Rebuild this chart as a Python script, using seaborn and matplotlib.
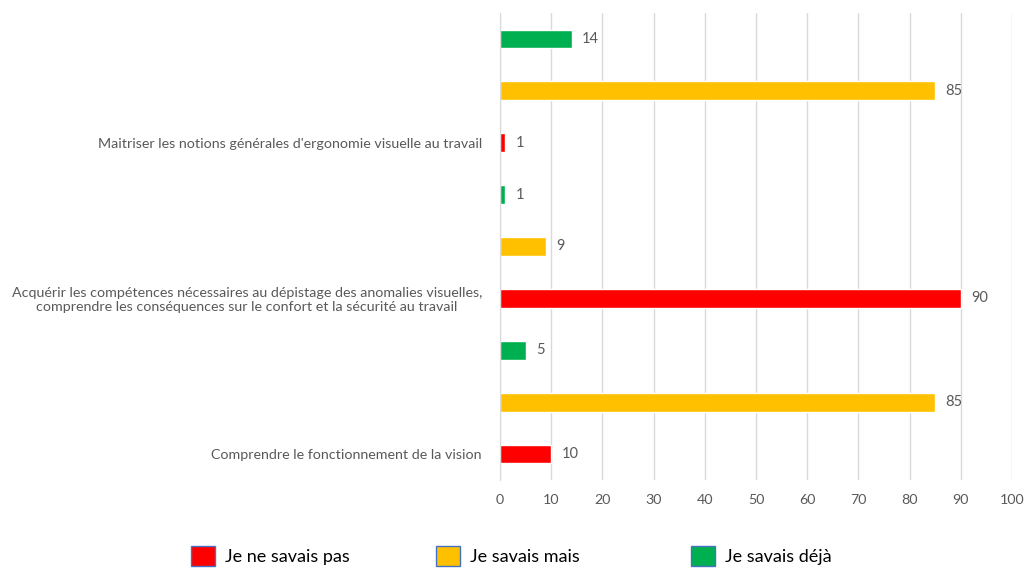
import numpy as np
import pandas as pd
import matplotlib.pyplot as plt
import seaborn as sns
from matplotlib.patches import Patch

# Données (de haut en bas)
rangs = ['r1', 'r2', 'r3', 'r4', 'r5', 'r6', 'r7', 'r8', 'r9']
series = ['Je savais déjà', 'Je savais mais', 'Je ne savais pas'] * 3
valeurs = [14, 85, 1, 1, 9, 90, 5, 85, 10]
themes = [
    "Maitriser les notions générales d'ergonomie visuelle au travail",
    "Acquérir les compétences nécessaires au dépistage des anomalies visuelles,\ncomprendre les conséquences sur le confort et la sécurité au travail",
    "Comprendre le fonctionnement de la vision",
]
legende = ['Je ne savais pas', 'Je savais mais', 'Je savais déjà']
couleurs = {'Je ne savais pas': '#FF0000', 'Je savais mais': '#FFC000', 'Je savais déjà': '#00B050'}

df = pd.DataFrame({'rang': rangs, 'serie': series, 'valeur': valeurs})

sns.set_style('white')
plt.rcParams['font.family'] = ['Lato', 'DejaVu Sans']
gris = '#595959'

fig = plt.figure(figsize=(10.26, 5.70), dpi=100)
ax = fig.add_axes([500 / 1026, 1 - 480 / 570, 512 / 1026, 467 / 570])

sns.barplot(data=df, y='rang', x='valeur', hue='serie', palette=couleurs,
            dodge=False, width=0.36, orient='h', saturation=1, ax=ax, legend=False)

ax.set_xlim(0, 100)
ax.set_ylim(8.5, -0.5)
ax.set_xticks(np.arange(0, 101, 10))
ax.xaxis.grid(True, color='#D9D9D9', linewidth=1)
ax.set_axisbelow(True)
ax.tick_params(axis='x', length=0, labelsize=10.3, labelcolor=gris, pad=10)

# étiquettes des thèmes sur les barres rouges
ax.set_yticks([2, 5, 8])
ax.set_yticklabels(themes, multialignment='center')
ax.tick_params(axis='y', length=0, labelsize=10.3, labelcolor=gris, pad=13)
ax.set_yticks(np.arange(-0.5, 9, 1), minor=True)
ax.tick_params(axis='y', which='minor', length=5, color='#D9D9D9', width=1, direction='out')

ax.set_xlabel('')
ax.set_ylabel('')
for s in ['top', 'right', 'bottom']:
    ax.spines[s].set_visible(False)
ax.spines['left'].set_color('#D9D9D9')

for cont in ax.containers:
    ax.bar_label(cont, padding=7.5, fontsize=10.5, color=gris)

# légende : une entrée par position
pos_x = [191, 436, 691]
for nom, x in zip(legende, pos_x):
    h = Patch(facecolor=couleurs[nom], edgecolor='#4472C4', linewidth=1)
    fig.legend([h], [nom], loc='center left', bbox_to_anchor=(x / 1026, 1 - 556 / 570),
               frameon=False, fontsize=13, handlelength=1.35, handleheight=1.35,
               handletextpad=0.55, borderpad=0, borderaxespad=0, labelcolor='#000000')

fig.savefig('out.png', dpi=100)
